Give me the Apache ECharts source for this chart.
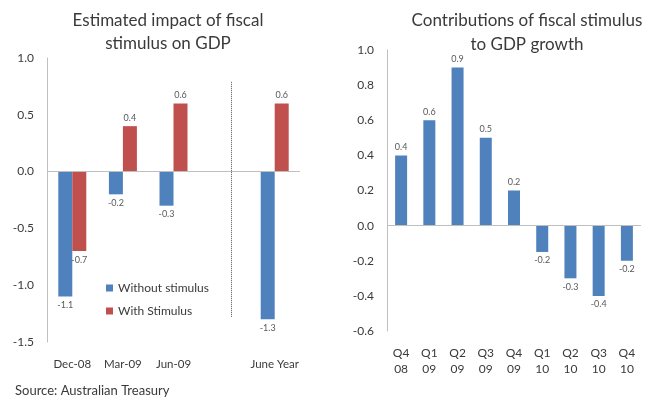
<!DOCTYPE html>
<html><head><meta charset="utf-8">
<script src="https://cdn.jsdelivr.net/npm/echarts@6/dist/echarts.min.js"></script>
<style>html,body{margin:0;padding:0;background:#fff}#c{width:654px;height:399px}</style>
</head><body><div id="c"></div>
<script>
const leftCategories = ['Dec-08', 'Mar-09', 'Jun-09', '', 'June Year'];
const withoutStimulus = [-1.1, -0.2, -0.3, null, -1.3];
const withStimulus = [-0.7, 0.4, 0.6, null, 0.6];
const leftTicks = [-1.5, -1.0, -0.5, 0.0, 0.5, 1.0];

const rightCategories = ['Q4\n08', 'Q1\n09', 'Q2\n09', 'Q3\n09', 'Q4\n09', 'Q1\n10', 'Q2\n10', 'Q3\n10', 'Q4\n10'];
const contributions = [0.4, 0.6, 0.9, 0.5, 0.2, -0.15, -0.3, -0.4, -0.2];
const contributionLabels = ['0.4', '0.6', '0.9', '0.5', '0.2', '-0.2', '-0.3', '-0.4', '-0.2'];
const rightTicks = [-0.6, -0.4, -0.2, 0.0, 0.2, 0.4, 0.6, 0.8, 1.0];

const FONT = 'Lato, "Open Sans", sans-serif';
const BLUE = '#4F81BD', RED = '#C0504D';
const TXT = '#3a3a3a';
const labelStyle = {fontSize: 9, color: '#595959', fontFamily: FONT, distance: 4};

function barData(vals, labels) {
  return vals.map((v, i) => v == null ? null : {
    value: v,
    label: {show: true, position: v < 0 ? 'bottom' : 'top',
      formatter: labels ? labels[i] : v.toFixed(1), ...labelStyle}
  });
}
const zeroLine = {silent: true, symbol: 'none', label: {show: false},
  lineStyle: {color: '#bfbfbf', type: 'solid', width: 1}, data: [{yAxis: 0}]};

const chart = echarts.init(document.getElementById('c'));
chart.setOption({
  animation: false,
  textStyle: {fontFamily: FONT},
  title: [
    {text: 'Estimated impact of fiscal\nstimulus on GDP', left: 163, top: 4, textAlign: 'center',
      textStyle: {fontSize: 17, fontWeight: 'normal', color: TXT, lineHeight: 23, fontFamily: FONT}},
    {text: 'Contributions of fiscal stimulus\nto GDP growth', left: 522, top: 4, textAlign: 'center',
      textStyle: {fontSize: 17, fontWeight: 'normal', color: TXT, lineHeight: 24, fontFamily: FONT}}
  ],
  legend: {orient: 'vertical', left: 101, top: 277, itemWidth: 7, itemHeight: 7, itemGap: 11,
    icon: 'rect', data: ['Without stimulus', 'With Stimulus'],
    textStyle: {fontSize: 12, color: TXT, fontFamily: FONT}},
  grid: [
    {left: 47, right: 354, top: 58, bottom: 57},
    {left: 387, right: 13, top: 50, bottom: 68}
  ],
  xAxis: [
    {type: 'category', gridIndex: 0, data: leftCategories, axisLine: {show: false}, axisTick: {show: false},
      axisLabel: {fontSize: 11.5, color: TXT, margin: 16, interval: 0}},
    {type: 'category', gridIndex: 1, data: rightCategories, axisLine: {show: false}, axisTick: {show: false},
      axisLabel: {fontSize: 12, color: TXT, margin: 14, interval: 0, lineHeight: 16}}
  ],
  yAxis: [
    {type: 'value', gridIndex: 0, min: leftTicks[0], max: leftTicks[leftTicks.length - 1], interval: 0.5,
      splitLine: {show: false}, axisTick: {show: false},
      axisLine: {show: true, lineStyle: {color: '#bfbfbf'}},
      axisLabel: {fontSize: 12, color: TXT, margin: 13, formatter: v => v.toFixed(1)}},
    {type: 'value', gridIndex: 1, min: rightTicks[0], max: rightTicks[rightTicks.length - 1], interval: 0.2,
      splitLine: {show: false}, axisTick: {show: false},
      axisLine: {show: true, lineStyle: {color: '#bfbfbf'}},
      axisLabel: {fontSize: 12, color: TXT, margin: 13, formatter: v => v.toFixed(1)}}
  ],
  series: [
    {name: 'Without stimulus', type: 'bar', xAxisIndex: 0, yAxisIndex: 0, barWidth: 14, barGap: '0%',
      itemStyle: {color: BLUE}, data: barData(withoutStimulus), markLine: zeroLine},
    {name: 'With Stimulus', type: 'bar', xAxisIndex: 0, yAxisIndex: 0, barWidth: 14, barGap: '0%',
      itemStyle: {color: RED}, data: barData(withStimulus),
      markLine: {silent: true, symbol: 'none', label: {show: false},
        lineStyle: {color: '#555', type: 'dotted', width: 1},
        data: [[{coord: [3, 0.79]}, {coord: [3, -1.28]}]]}},
    {name: 'Contribution', type: 'bar', xAxisIndex: 1, yAxisIndex: 1, barWidth: 12,
      itemStyle: {color: BLUE}, data: barData(contributions, contributionLabels), markLine: zeroLine}
  ],
  graphic: [
    {type: 'text', left: 15, top: 384, style: {text: 'Source: Australian Treasury', fontSize: 13, fill: TXT, fontFamily: FONT}}
  ]
});
</script></body></html>
